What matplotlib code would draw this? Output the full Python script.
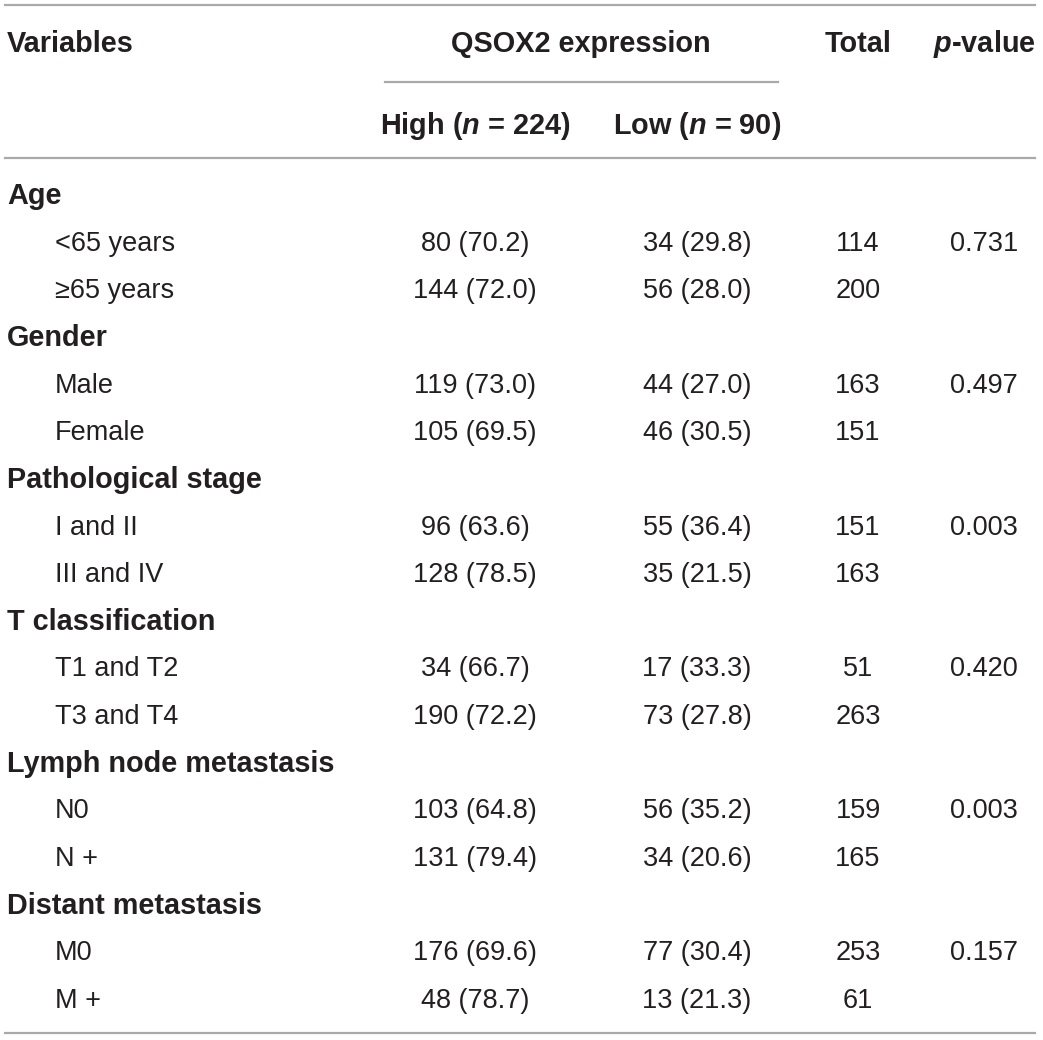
import matplotlib
matplotlib.use("Agg")
import matplotlib.pyplot as plt

plt.rcParams['font.family'] = ['Liberation Sans', 'DejaVu Sans']
plt.rcParams['font.sans-serif'] = ['Liberation Sans', 'DejaVu Sans']
plt.rcParams['mathtext.fontset'] = 'custom'
plt.rcParams['mathtext.bfit'] = 'Liberation Sans:italic:bold'
plt.rcParams['mathtext.it'] = 'Liberation Sans:italic'
plt.rcParams['mathtext.rm'] = 'Liberation Sans'
plt.rcParams['mathtext.bf'] = 'Liberation Sans:bold'

groups = ["Age", "Gender", "Pathological stage", "T classification",
          "Lymph node metastasis", "Distant metastasis"]
sub_labels = [["<65 years", "\u226565 years"], ["Male", "Female"],
              ["I and II", "III and IV"], ["T1 and T2", "T3 and T4"],
              ["N0", "N +"], ["M0", "M +"]]
high_n = [[80, 144], [119, 105], [96, 128], [34, 190], [103, 131], [176, 48]]
high_pct = [[70.2, 72.0], [73.0, 69.5], [63.6, 78.5], [66.7, 72.2], [64.8, 79.4], [69.6, 78.7]]
low_n = [[34, 56], [44, 46], [55, 35], [17, 73], [56, 34], [77, 13]]
low_pct = [[29.8, 28.0], [27.0, 30.5], [36.4, 21.5], [33.3, 27.8], [35.2, 20.6], [30.4, 21.3]]
totals = [[114, 200], [163, 151], [151, 163], [51, 263], [159, 165], [253, 61]]
p_values = ["0.731", "0.497", "0.003", "0.420", "0.003", "0.157"]

W, H = 1043, 1040
fig = plt.figure(figsize=(W / 100, H / 100), dpi=100)
ax = fig.add_axes([0, 0, 1, 1])
ax.set_xlim(0, W)
ax.set_ylim(H, 0)
ax.axis('off')

txt = '#231f20'
line_c = '#a7a9ac'
fs = 19.5
fsb = 20.8

x_var = 7
x_ind = 55
x_high = 475
x_low = 697
x_tot = 858
x_p = 984

# rules
ax.plot([5, 1035], [5, 5], color=line_c, lw=1.6)
ax.plot([385, 778], [82, 82], color=line_c, lw=1.6)
ax.plot([5, 1035], [158, 158], color=line_c, lw=1.6)
ax.plot([5, 1035], [1033, 1033], color=line_c, lw=1.6)

# header
hy = 44
ax.text(x_var, hy, "Variables", fontsize=fsb, fontweight='bold', color=txt, va='center', ha='left')
ax.text(581, hy, "QSOX2 expression", fontsize=fsb, fontweight='bold', color=txt, va='center', ha='center')
ax.text(x_tot, hy, "Total", fontsize=fsb, fontweight='bold', color=txt, va='center', ha='center')
ax.text(x_p, hy, r"$\bfit{p}$-value", fontsize=fsb, fontweight='bold', color=txt, va='center', ha='center')
ax.text(x_high, 126, r"High ($\bfit{n}$ = 224)", fontsize=fsb, fontweight='bold', color=txt, va='center', ha='center')
ax.text(x_low, 126, r"Low ($\bfit{n}$ = 90)", fontsize=fsb, fontweight='bold', color=txt, va='center', ha='center')

y0 = 196.5
step = 47.3
row = 0
for g in range(len(groups)):
    y = y0 + step * row
    ax.text(x_var, y, groups[g], fontsize=fsb, fontweight='bold', color=txt, va='center', ha='left')
    row += 1
    for k in range(2):
        y = y0 + step * row
        ax.text(x_ind, y, sub_labels[g][k], fontsize=fs, color=txt, va='center', ha='left')
        ax.text(x_high, y, f"{high_n[g][k]} ({high_pct[g][k]:.1f})", fontsize=fs, color=txt, va='center', ha='center')
        ax.text(x_low, y, f"{low_n[g][k]} ({low_pct[g][k]:.1f})", fontsize=fs, color=txt, va='center', ha='center')
        ax.text(x_tot, y, f"{totals[g][k]}", fontsize=fs, color=txt, va='center', ha='center')
        if k == 0:
            ax.text(x_p, y, p_values[g], fontsize=fs, color=txt, va='center', ha='center')
        row += 1

fig.savefig("out.png", dpi=100)
